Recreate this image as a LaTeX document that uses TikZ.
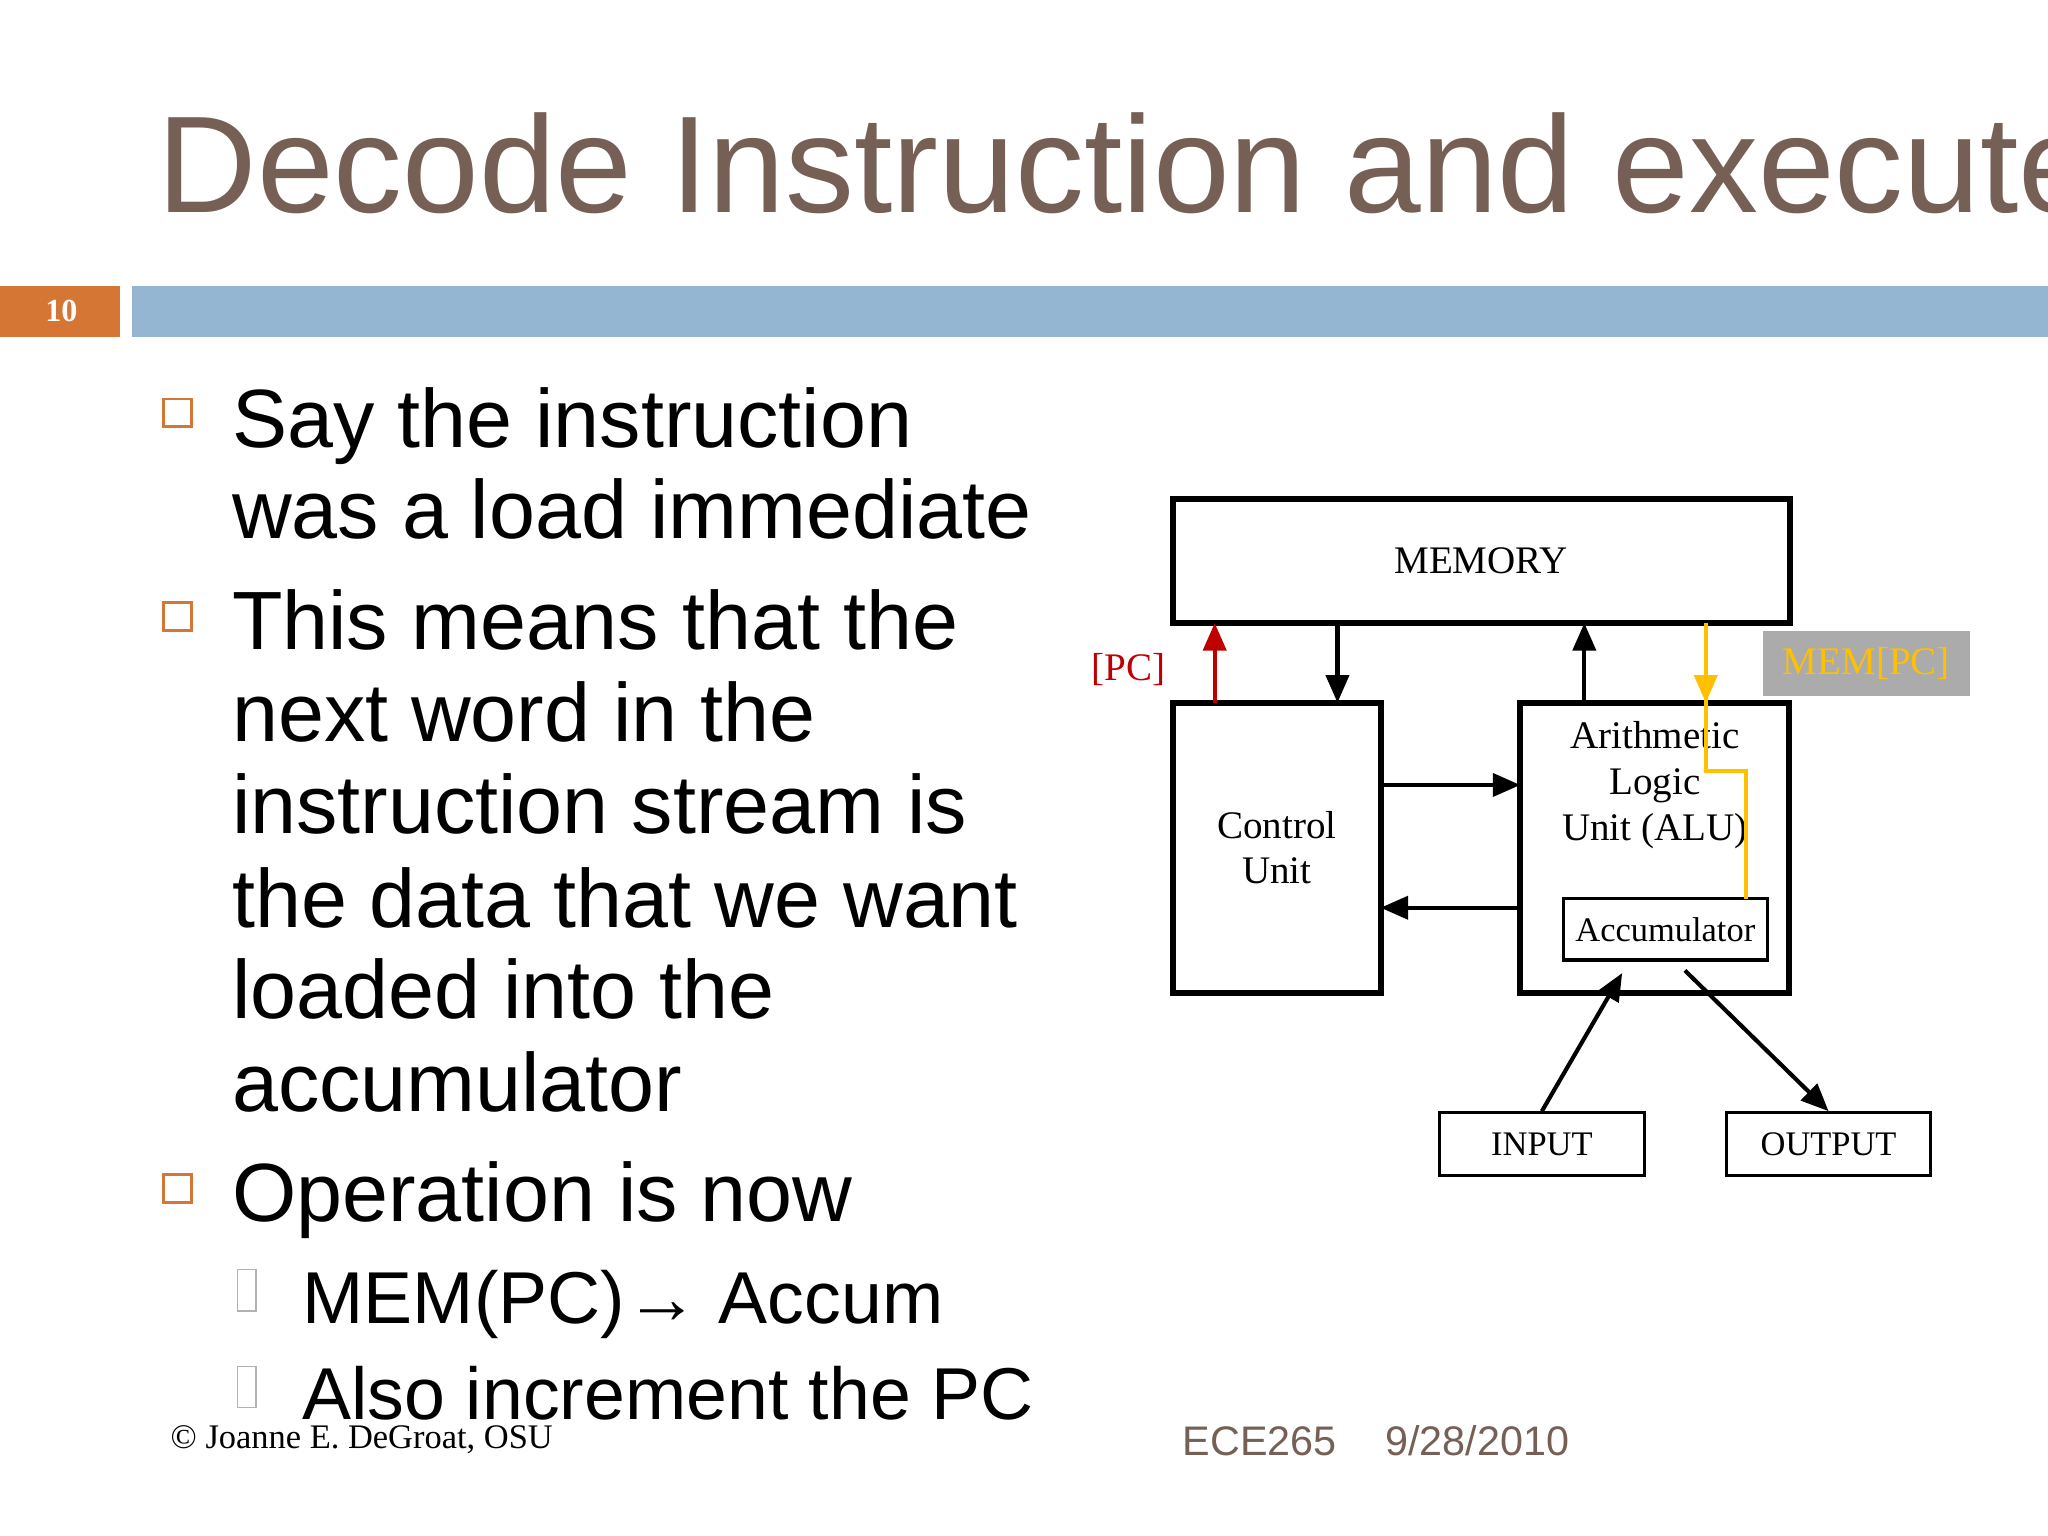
\documentclass[tikz,border=0pt]{standalone}
\usepackage{fontspec}
\setmainfont{Liberation Serif}
\newfontfamily\arialf{Liberation Sans}
\usetikzlibrary{arrows.meta}
\definecolor{titlec}{RGB}{118,96,86}
\definecolor{barblue}{RGB}{148,182,210}
\definecolor{barorange}{RGB}{214,118,52}
\definecolor{yel}{RGB}{255,192,0}
\definecolor{redc}{RGB}{190,0,0}
\begin{document}
\begin{tikzpicture}[x=0.01cm,y=-0.01cm,
  box/.style={draw,line width=1.3pt,inner sep=0},
  sbox/.style={draw,line width=0.7pt,inner sep=0},
  arr/.style={line width=0.9pt,-{Triangle[length=6pt,width=5pt]}},
  body/.style={anchor=base west,font=\arialf\fontsize{18}{20}\selectfont,inner sep=0},
  dtext/.style={font=\fontsize{8.5}{10}\selectfont,align=center},
  bul/.style={draw=barorange,line width=0.6pt,minimum size=6pt,inner sep=0}]
\useasboundingbox (0,0) rectangle (1568,1176);
\node[anchor=base west,inner sep=0,text=titlec,font=\arialf\fontsize{30}{32}\selectfont] (title) at (120,163) {Decode Instruction and execute};
\fill[barorange] (0,219) rectangle (92,258);
\fill[barblue] (101,219) rectangle (1568,258);
\node[text=white,font=\bfseries\fontsize{7}{8}\selectfont] (num) at (47,238) {10};
% bullets
\node[bul] (b1) at (136,316) {};
\node[bul] (b2) at (136,472) {};
\node[bul] (b3) at (136,910) {};
\node[body] (t1) at (177,343) {Say the instruction};
\node[body] (t2) at (177,412) {was a load immediate};
\node[body] (t3) at (177,497) {This means that the};
\node[body] (t4) at (177,568) {next word in the};
\node[body] (t5) at (177,638) {instruction stream is};
\node[body] (t6) at (177,710) {the data that we want};
\node[body] (t7) at (177,780) {loaded into the};
\node[body] (t8) at (177,851) {accumulator};
\node[body] (t9) at (177,935) {Operation is now};
\node[draw=gray!60,line width=0.3pt,minimum width=4pt,minimum height=9pt,inner sep=0] (s1) at (189,988) {};
\node[draw=gray!60,line width=0.3pt,minimum width=4pt,minimum height=9pt,inner sep=0] (s2) at (189,1062) {};
\node[body,font=\arialf\fontsize{16}{18}\selectfont] (t10) at (231,1013) {MEM(PC)\textrightarrow{} Accum};
\node[body,font=\arialf\fontsize{16}{18}\selectfont] (t11) at (231,1087) {Also increment the PC};
\node[anchor=base west,inner sep=0,font=\fontsize{7.5}{9}\selectfont] (foot) at (130,1109) {\textcopyright{} Joanne E. DeGroat, OSU};
\node[anchor=base west,inner sep=0,text=titlec,font=\arialf\fontsize{9}{10}\selectfont] (ece) at (905,1114) {ECE265};
\node[anchor=base west,inner sep=0,text=titlec,font=\arialf\fontsize{9}{10}\selectfont] (date) at (1060,1114) {9/28/2010};
% diagram
\node[box,minimum width=4.72cm,minimum height=0.95cm,dtext] (mem) at (1134,429.5) {MEMORY};
\node[box,minimum width=1.59cm,minimum height=2.22cm,dtext] (cu) at (977.5,649) {Control\\Unit};
\node[box,minimum width=2.06cm,minimum height=2.22cm] (alu) at (1267,649) {};
\node[dtext,anchor=north] (alut) at (1267,540) {Arithmetic\\Logic\\Unit (ALU)};
\node[sbox,minimum width=1.56cm,minimum height=0.47cm,dtext,font=\fontsize{7.5}{9}\selectfont] (acc) at (1275,711.5) {Accumulator};
\node[sbox,minimum width=1.57cm,minimum height=0.48cm,dtext,font=\fontsize{7.5}{9}\selectfont] (in) at (1180.5,876) {INPUT};
\node[sbox,minimum width=1.56cm,minimum height=0.48cm,dtext,font=\fontsize{7.5}{9}\selectfont] (out) at (1400,876) {OUTPUT};
\node[fill=black!33,minimum width=1.58cm,minimum height=0.5cm,text=yel,dtext] (mpc) at (1429,508) {MEM[PC]};
\node[text=redc,dtext] (pc) at (864,513) {[PC]};
\draw[arr,draw=redc] (930,538) -- (930,477);
\draw[arr] (1024,477) -- (1024,538);
\draw[arr] (1213,538) -- (1213,477);
\draw[arr] (1057,601) -- (1164,601);
\draw[arr] (1164,695) -- (1057,695);
\draw[line width=0.9pt,draw=yel] (1306,530) -- (1306,590) -- (1337,590) -- (1337,688);
\draw[arr,draw=yel] (1306,477) -- (1306,538);
\draw[arr] (in.north) -- (1242,745);
\draw[arr] (1290,743) -- (out.north);
\end{tikzpicture}
\end{document}
